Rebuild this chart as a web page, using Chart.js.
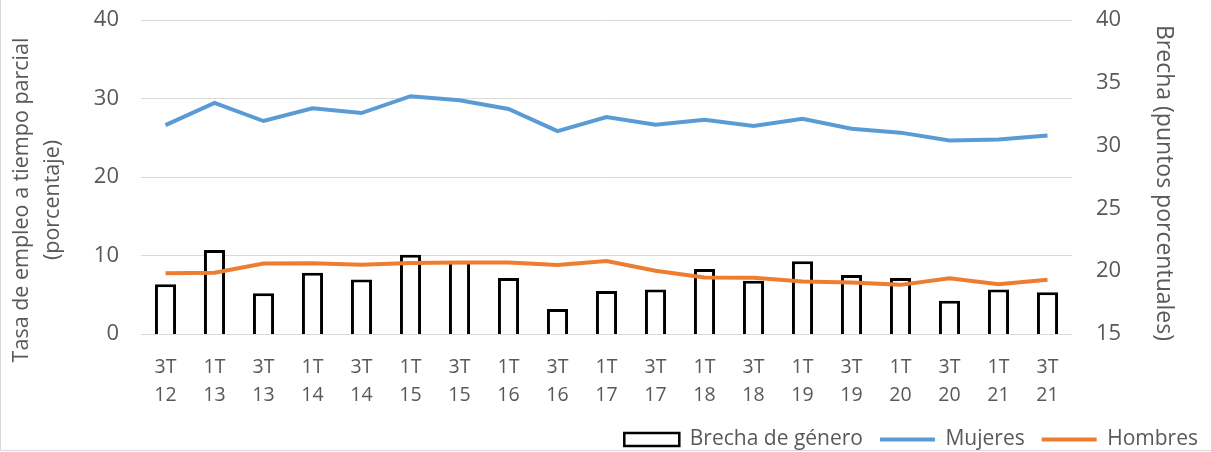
<!DOCTYPE html>
<html>
<head>
<meta charset="utf-8">
<script src="https://cdn.jsdelivr.net/npm/chart.js@4"></script>
<style>
  html, body { margin: 0; padding: 0; background: #ffffff; }
  #wrap { width: 1211px; height: 452px; position: relative; }
</style>
</head>
<body>
<div id="wrap"><canvas id="c" width="1211" height="452"></canvas></div>
<script>
const categories = [
  ["3T","12"],["1T","13"],["3T","13"],["1T","14"],["3T","14"],["1T","15"],["3T","15"],
  ["1T","16"],["3T","16"],["1T","17"],["3T","17"],["1T","18"],["3T","18"],["1T","19"],
  ["3T","19"],["1T","20"],["3T","20"],["1T","21"],["3T","21"]
];
const brecha = [18.97, 21.68, 18.25, 19.87, 19.34, 21.31, 20.8, 19.45, 17.0, 18.43, 18.54, 20.17, 19.23, 20.8, 19.69, 19.45, 17.64, 18.54, 18.33];
const mujeres = [26.6, 29.43, 27.13, 28.75, 28.15, 30.29, 29.78, 28.67, 25.85, 27.64, 26.67, 27.3, 26.5, 27.43, 26.16, 25.65, 24.66, 24.79, 25.3];
const hombres = [7.75, 7.8, 8.99, 9.0, 8.82, 9.03, 9.11, 9.11, 8.78, 9.29, 8.05, 7.2, 7.16, 6.69, 6.56, 6.26, 7.11, 6.35, 6.9];
const leftTicks = [0, 10, 20, 30, 40];
const rightTicks = [15, 20, 25, 30, 35, 40];
const leftTitle = ["Tasa de empleo a tiempo parcial", "(porcentaje)"];
const rightTitle = "Brecha (puntos porcentuales)";

const FONT = "'Open Sans', sans-serif";
const TXT = "#595959";

const titlesPlugin = {
  id: 'titles',
  afterDraw(chart) {
    const ctx = chart.ctx;
    ctx.save();
    ctx.fillStyle = TXT;
    ctx.textAlign = 'center';
    ctx.textBaseline = 'middle';
    // left title (rotated CCW)
    ctx.save();
    ctx.font = "21.5px " + FONT;
    ctx.translate(22, 200);
    ctx.rotate(-Math.PI / 2);
    ctx.fillText(leftTitle[0], 0, 0);
    ctx.fillText(leftTitle[1], 0, 31);
    ctx.restore();
    // right title (rotated CW)
    ctx.save();
    ctx.font = "23px " + FONT;
    ctx.translate(1164, 183);
    ctx.rotate(Math.PI / 2);
    ctx.fillText(rightTitle, 0, 0);
    ctx.restore();
    // frame lines (left and bottom)
    ctx.strokeStyle = '#d9d9d9';
    ctx.lineWidth = 1;
    ctx.beginPath();
    ctx.moveTo(0.5, 0);
    ctx.lineTo(0.5, 450.5);
    ctx.lineTo(1211, 450.5);
    ctx.stroke();
    ctx.restore();
  }
};

function noPad(s) { s.paddingTop = 0; s.paddingBottom = 0; s.paddingLeft = 0; s.paddingRight = 0; }

new Chart(document.getElementById('c'), {
  data: {
    labels: categories,
    datasets: [
      {
        type: 'line', label: 'Mujeres', data: mujeres, yAxisID: 'y',
        borderColor: '#5B9BD5', backgroundColor: '#5B9BD5', borderWidth: 4,
        pointRadius: 0, tension: 0, order: 1
      },
      {
        type: 'line', label: 'Hombres', data: hombres, yAxisID: 'y',
        borderColor: '#ED7D31', backgroundColor: '#ED7D31', borderWidth: 4,
        pointRadius: 0, tension: 0, order: 0
      },
      {
        type: 'bar', label: 'Brecha de género', data: brecha, yAxisID: 'y2',
        backgroundColor: '#ffffff', borderColor: '#000000', borderWidth: 3,
        barPercentage: 0.43, categoryPercentage: 1, order: 2
      }
    ]
  },
  options: {
    responsive: false,
    animation: false,
    layout: { padding: { top: 20, right: -4, bottom: -8, left: 0 } },
    plugins: {
      legend: {
        position: 'bottom', align: 'end',
        labels: {
          usePointStyle: true, pointStyleWidth: 55, boxHeight: 13,
          color: TXT, font: { family: FONT, size: 21 }, padding: 17,
          sort: (a, b) => {
            const ord = {'Brecha de género': 0, 'Mujeres': 1, 'Hombres': 2};
            return ord[a.text] - ord[b.text];
          },
          generateLabels(chart) {
            return chart.data.datasets.map((ds, i) => ({
              text: ds.label,
              fillStyle: ds.type === 'bar' ? '#ffffff' : ds.borderColor,
              strokeStyle: ds.borderColor,
              lineWidth: ds.type === 'bar' ? 2.5 : 4,
              pointStyle: ds.type === 'bar' ? 'rect' : 'line',
              fontColor: TXT,
              datasetIndex: i,
              hidden: false
            }));
          }
        }
      },
      tooltip: { enabled: false }
    },
    scales: {
      x: {
        grid: { display: false, drawTicks: false },
        border: { display: false },
        ticks: { color: TXT, font: { family: FONT, size: 19.5, lineHeight: 1.42 }, padding: 20, maxRotation: 0, autoSkip: false },
        afterFit(s) { s.height = 78; noPad(s); }
      },
      y: {
        position: 'left', min: 0, max: 40,
        afterBuildTicks(s) { s.ticks = leftTicks.map(v => ({ value: v })); },
        grid: { color: '#d9d9d9', lineWidth: 1, drawTicks: false },
        border: { display: false },
        ticks: { color: TXT, font: { family: FONT, size: 22 }, padding: 22 },
        afterFit(s) { s.width = 141; noPad(s); }
      },
      y2: {
        position: 'right', min: 15, max: 40,
        afterBuildTicks(s) { s.ticks = rightTicks.map(v => ({ value: v })); },
        grid: { display: false, drawTicks: false },
        border: { display: false },
        ticks: { color: TXT, font: { family: FONT, size: 22 }, padding: 24 },
        afterFit(s) { s.width = 143; noPad(s); }
      }
    }
  },
  plugins: [titlesPlugin]
});
</script>
</body>
</html>
